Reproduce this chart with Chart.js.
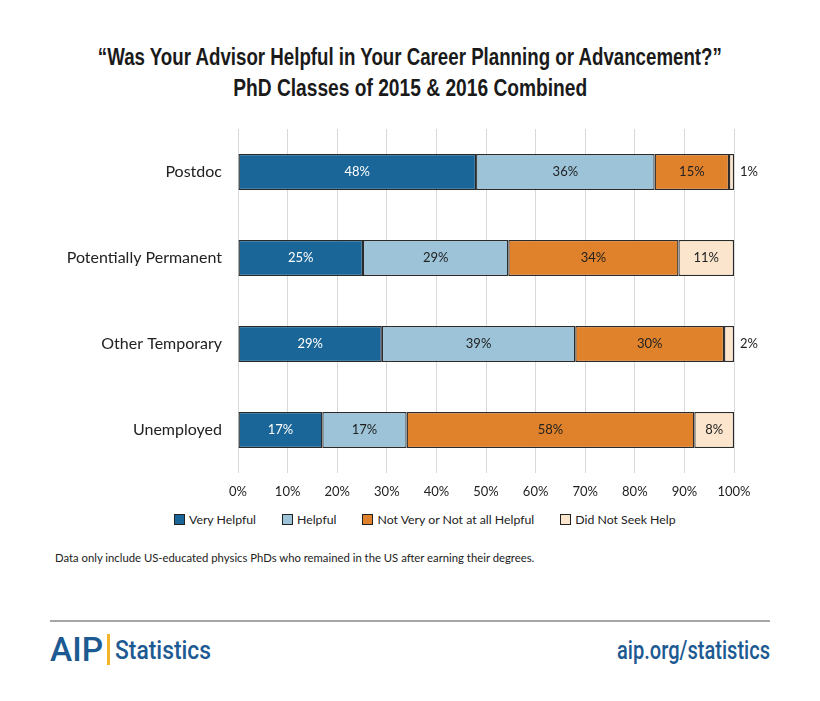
<!DOCTYPE html>
<html>
<head>
<meta charset="utf-8">
<script src="https://cdn.jsdelivr.net/npm/chart.js@4/dist/chart.umd.min.js"></script>
<style>
  html,body{margin:0;padding:0;background:#fff;}
  body{width:820px;height:701px;position:relative;overflow:hidden;font-family:Lato,"Noto Sans",sans-serif;}
  #wrap{position:absolute;left:0;top:0;width:820px;height:510px;}
  .title{position:absolute;left:0;width:820px;text-align:center;font-family:"Liberation Sans",Arial,sans-serif;font-weight:bold;font-size:23px;color:#1a1a1a;white-space:nowrap;}
  .fit{display:inline-block;transform-origin:center center;white-space:nowrap;}
  #legend{position:absolute;top:512px;left:174px;font-size:12.3px;color:#222;display:flex;}
  #legend .item{display:flex;align-items:center;margin-right:26px;}
  #legend .sw{width:9px;height:9px;border:1px solid #222;margin-right:4px;}
  #note{position:absolute;left:55px;top:551px;font-size:11.3px;color:#222;}
  #rule{position:absolute;left:50px;top:620px;width:720px;height:2px;background:#a6a6a6;}
  .logo{position:absolute;font-family:Roboto,"Liberation Sans",sans-serif;color:#1d5a92;white-space:nowrap;}
  #aipA{left:50px;top:630px;font-size:33px;font-weight:500;transform-origin:left center;}
  #aipBar{position:absolute;left:107px;top:634px;width:2.5px;height:31px;background:#f2b42b;}
  #aipS{left:115px;top:635px;font-size:26px;font-weight:500;transform-origin:left center;}
  #url{right:50px;top:635px;font-size:26px;font-weight:500;transform-origin:right center;}
</style>
</head>
<body>
<div class="title" style="top:44px;"><span class="fit" id="t1">“Was Your Advisor Helpful in Your Career Planning or Advancement?”</span></div>
<div class="title" style="top:75px;"><span class="fit" id="t2">PhD Classes of 2015 &amp; 2016 Combined</span></div>
<div id="wrap"><canvas id="c" width="820" height="510"></canvas></div>
<div id="legend"></div>
<div id="note">Data only include US-educated physics PhDs who remained in the US after earning their degrees.</div>
<div id="rule"></div>
<div class="logo" id="aipA">AIP</div>
<div id="aipBar"></div>
<div class="logo" id="aipS">Statistics</div>
<div class="logo" id="url">aip.org/statistics</div>
<script>
const categories = ["Postdoc", "Potentially Permanent", "Other Temporary", "Unemployed"];
const seriesNames = ["Very Helpful", "Helpful", "Not Very or Not at all Helpful", "Did Not Seek Help"];
const veryHelpful = [48, 25.2, 29, 17];
const helpful = [36, 29.3, 39, 17];
const notHelpful = [15, 34.3, 30, 58];
const didNotSeek = [1, 11.2, 2, 8];
const labelsVeryHelpful = ["48%", "25%", "29%", "17%"];
const labelsHelpful = ["36%", "29%", "39%", "17%"];
const labelsNotHelpful = ["15%", "34%", "30%", "58%"];
const labelsDidNotSeek = ["1%", "11%", "2%", "8%"];
const xTicks = [0, 10, 20, 30, 40, 50, 60, 70, 80, 90, 100];

const colors = ["#1a6699", "#9cc3d8", "#e0822b", "#fbe5cd"];
const textColors = ["#ffffff", "#222222", "#222222", "#222222"];
const allValues = [veryHelpful, helpful, notHelpful, didNotSeek];
const allLabels = [labelsVeryHelpful, labelsHelpful, labelsNotHelpful, labelsDidNotSeek];

// condense text to a target width (reference uses a condensed typeface)
function fitWidth(id, target) {
  const el = document.getElementById(id);
  const w = el.getBoundingClientRect().width;
  if (w > 0) el.style.transform = 'scaleX(' + (target / w) + ')';
}
fitWidth('t1', 624);
fitWidth('t2', 354);
fitWidth('aipA', 53);
fitWidth('aipS', 96);
fitWidth('url', 153);

const legend = document.getElementById('legend');
seriesNames.forEach((n, i) => {
  const d = document.createElement('div');
  d.className = 'item';
  d.innerHTML = '<span class="sw" style="background:' + colors[i] + '"></span>' + n;
  legend.appendChild(d);
});

const labelPlugin = {
  id: 'barLabels',
  afterDatasetsDraw(chart) {
    const ctx = chart.ctx;
    ctx.save();
    ctx.font = '13px Lato, "Noto Sans", sans-serif';
    ctx.textBaseline = 'middle';
    const xs = chart.scales.x;
    chart.data.datasets.forEach((ds, di) => {
      const meta = chart.getDatasetMeta(di);
      meta.data.forEach((bar, i) => {
        const v = ds.data[i];
        const txt = allLabels[di][i];
        if (v < 4) {
          ctx.fillStyle = '#222';
          ctx.textAlign = 'left';
          ctx.fillText(txt, xs.getPixelForValue(100) + 6, bar.y);
        } else {
          ctx.fillStyle = textColors[di];
          ctx.textAlign = 'center';
          ctx.fillText(txt, (bar.x + bar.base) / 2, bar.y);
        }
      });
    });
    ctx.restore();
  }
};

new Chart(document.getElementById('c'), {
  type: 'bar',
  data: {
    labels: categories,
    datasets: seriesNames.map((n, i) => ({
      label: n,
      data: allValues[i],
      backgroundColor: colors[i],
      borderColor: '#2a2a2a',
      borderWidth: 1.3,
      borderSkipped: false,
      categoryPercentage: 1,
      barPercentage: 0.42
    }))
  },
  options: {
    indexAxis: 'y',
    responsive: false,
    animation: false,
    devicePixelRatio: 1,
    layout: { padding: { top: 129, right: 86, bottom: 0, left: 0 } },
    plugins: { legend: { display: false }, tooltip: { enabled: false } },
    scales: {
      x: {
        stacked: true,
        min: 0, max: 100,
        afterBuildTicks(s) { s.ticks = xTicks.map(v => ({ value: v })); },
        afterFit(s) { s.height = 37; },
        ticks: {
          padding: 11,
          color: '#222',
          font: { family: 'Lato, "Noto Sans", sans-serif', size: 13 },
          callback: v => v + '%',
          maxRotation: 0
        },
        grid: { color: '#d9d9d9', lineWidth: 1, drawTicks: false },
        border: { display: false }
      },
      y: {
        stacked: true,
        afterFit(s) { s.width = 238; },
        ticks: {
          padding: 16,
          color: '#222',
          font: { family: 'Lato, "Noto Sans", sans-serif', size: 16 }
        },
        grid: { display: false, drawTicks: false },
        border: { display: false }
      }
    }
  },
  plugins: [labelPlugin]
});
</script>
</body>
</html>
